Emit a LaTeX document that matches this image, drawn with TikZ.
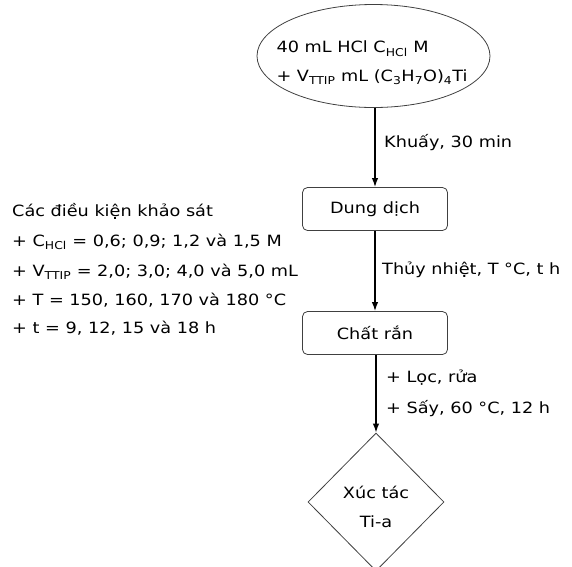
\documentclass[tikz,border=0pt]{standalone}
\usepackage{fontspec}
\setmainfont[FakeStretch=1.14]{DejaVu Sans}
\usetikzlibrary{shapes.geometric,arrows.meta}
\begin{document}
\begin{tikzpicture}[x=1pt,y=-1pt,
  font=\fontsize{15.5}{29}\selectfont,
  shapeline/.style={draw=black!75, line width=0.8pt},
  boxnode/.style={shapeline, rounded corners=5pt, minimum width=145, minimum height=43, inner sep=0pt},
  flow/.style={line width=1.5pt, -{Latex[length=9pt,width=6.5pt]}},
  lbl/.style={anchor=west, inner sep=0pt}]
\useasboundingbox (0,0) rectangle (572,566);
\node[shapeline, ellipse, minimum width=233, minimum height=103, inner sep=0pt] (src) at (373.5,56) {};
\node[align=left, inner sep=0pt] (srctext) at (372,63)
  {\fontsize{15.5}{29}\selectfont 40 mL HCl C\textsubscript{HCl} M\\+ V\textsubscript{TTIP} mL (C\textsubscript{3}H\textsubscript{7}O)\textsubscript{4}Ti};
\node[boxnode] (dd) at (375,209) {Dung dịch};
\node[boxnode] (cr) at (375,333) {Chất rắn};
\node[shapeline, diamond, minimum width=136, minimum height=138, inner sep=0pt] (xt) at (376,502) {};
\node[align=center, inner sep=0pt] (xttext) at (376,507) {Xúc tác\\Ti-a};
\draw[flow] (src.south -| dd.north) -- (dd.north);
\draw[flow] (dd) -- (cr);
\draw[flow] (cr.south -| xt.north) -- (xt.north);
\node[lbl] (k) at (384,143) {Khuấy, 30 min};
\node[lbl] (tn) at (382,270) {Thủy nhiệt, T °C, t h};
\node[lbl] (l1) at (386,378) {+ Lọc, rửa};
\node[lbl] (l2) at (386,409) {+ Sấy, 60 °C, 12 h};
\node[lbl] (c0) at (12,211) {Các điều kiện khảo sát};
\node[lbl] (c1) at (12,242) {+ C\textsubscript{HCl} = 0,6; 0,9; 1,2 và 1,5 M};
\node[lbl] (c2) at (12,272) {+ V\textsubscript{TTIP} = 2,0; 3,0; 4,0 và 5,0 mL};
\node[lbl] (c3) at (12,300) {+ T = 150, 160, 170 và 180 °C};
\node[lbl] (c4) at (12,328) {+ t = 9, 12, 15 và 18 h};
\end{tikzpicture}
\end{document}
